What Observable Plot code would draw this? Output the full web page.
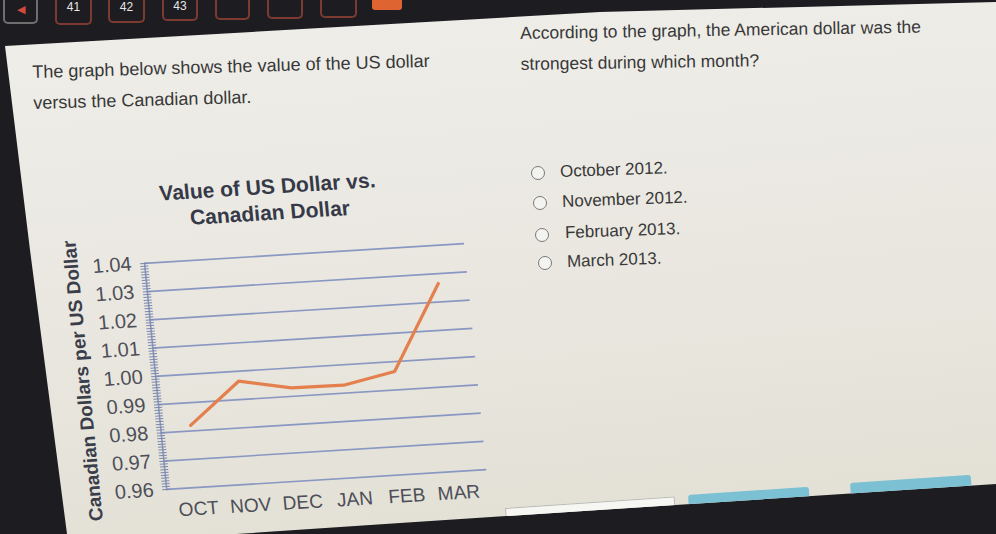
<!DOCTYPE html>
<html>
<head>
<meta charset="utf-8">
<script src="https://cdn.jsdelivr.net/npm/d3@7"></script>
<script src="https://cdn.jsdelivr.net/npm/@observablehq/plot@0.6"></script>
<style>
  html, body { margin: 0; padding: 0; }
  body { width: 996px; height: 534px; overflow: hidden; position: relative; background: #1d1c21;
         font-family: "Liberation Sans", Arial, sans-serif; color: #383838; }
  #panel { position: absolute; left: 0; top: 0; width: 996px; height: 534px;
           background: linear-gradient(175deg, #efeeea 0%, #eae8e1 45%, #e2e0d4 100%);
           clip-path: polygon(5px 46px, 600px 12px, 996px 2px, 996px 484px, 400px 523px, 236px 534px, 67px 534px, 30px 250px); }
  .tab { position: absolute; top: -6px; height: 30px; box-sizing: border-box; border: 2px solid #7c3a30;
         border-top: none; border-radius: 0 0 5px 5px; color: #e6e6e6; font-size: 12px; line-height: 12px;
         text-align: center; overflow: hidden; }
  .tab span { position: absolute; left: 0; right: 0; }
  .qtext { position: absolute; line-height: 31px; white-space: nowrap; transform-origin: 0 0; }
  .opt { position: absolute; font-size: 17px; white-space: nowrap; transform: rotate(-2deg); transform-origin: 0 50%; }
  .radio { position: absolute; width: 14px; height: 14px; box-sizing: border-box; border: 1.6px solid #7a7a7a;
           border-radius: 50%; background: #f3f3f0; }
  #chart { position: absolute; left: 0; top: 160px; width: 500px; height: 380px;
           transform-origin: 315px 205px; transform: matrix(1, -0.062, 0.098, 1, 0, 0); }
  #title { position: absolute; left: 85px; width: 400px; top: 12px; text-align: center; font-size: 21px;
           font-weight: bold; line-height: 26px; color: #363a48; }
  #plot { position: absolute; left: 0; top: 62px; }
  #plot svg g[aria-label="y-axis label"] text { font-size: 19px; font-weight: bold; fill: #3a3d4a; }
  .btn { position: absolute; transform-origin: 0 0; }
</style>
</head>
<body>
<div class="tab" style="left:3px;width:35px;border-color:#6f6f6f;"><span style="top:9px;font-size:11px;color:#d24a3c;">◀</span></div>
<div class="tab" style="left:55px;width:37px;height:31px;"><span style="top:7px;">41</span></div>
<div class="tab" style="left:108px;width:37px;height:29px;"><span style="top:7px;">42</span></div>
<div class="tab" style="left:162px;width:36px;height:27px;"><span style="top:6px;">43</span></div>
<div class="tab" style="left:215px;width:35px;height:26px;"></div>
<div class="tab" style="left:267px;width:36px;height:25px;"></div>
<div class="tab" style="left:320px;width:37px;height:24px;"></div>
<div style="position:absolute;left:372px;top:-4px;width:30px;height:14px;background:#de6532;border-radius:0 0 3px 3px;"></div>

<div id="panel">
  <div class="qtext" id="q1" style="left:32px;top:57px;font-size:18px;transform:rotate(-1.6deg);"></div>
  <div class="qtext" id="q2" style="left:520px;top:18px;font-size:17.5px;transform:rotate(-0.9deg);"></div>
  <div id="options"></div>
  <div id="chart">
    <div id="title"></div>
    <div id="plot"></div>
  </div>
  <div class="btn" style="left:505px;top:508px;width:168px;height:40px;background:#f6f6f3;border:1px solid #b9b9b4;transform:rotate(-3.9deg);"></div>
  <div class="btn" style="left:688px;top:495px;width:121px;height:40px;background:#7cc0d3;border-radius:3px;transform:rotate(-3.9deg);"></div>
  <div class="btn" style="left:850px;top:483px;width:121px;height:40px;background:#7cc0d3;border-radius:3px;transform:rotate(-3.9deg);"></div>
</div>

<script>
// ---- text content ----
const introLines = ["The graph below shows the value of the US dollar", "versus the Canadian dollar."];
const questionLines = ["According to the graph, the American dollar was the", "strongest during which month?"];
const answerOptions = ["October 2012.", "November 2012.", "February 2013.", "March 2013."];

// ---- chart data ----
const chartTitle = ["Value of US Dollar vs.", "Canadian Dollar"];
const yAxisLabel = "Canadian Dollars per US Dollar";
const months = ["OCT", "NOV", "DEC", "JAN", "FEB", "MAR"];
const rates = [0.982, 0.9965, 0.993, 0.9928, 0.9965, 1.0265];
const yTicks = [0.96, 0.97, 0.98, 0.99, 1.00, 1.01, 1.02, 1.03, 1.04];
const yMinorStep = 0.001;

// ---- page text ----
document.getElementById("q1").innerHTML = introLines.join("<br>");
document.getElementById("q2").innerHTML = questionLines.join("<br>");
const optPos = [[538, 173, 560, 171.5], [540, 203, 562, 202], [542, 235, 565, 233], [545, 263, 567, 262]];
const optBox = document.getElementById("options");
answerOptions.forEach((t, i) => {
  const [cx, cy, tx, ty] = optPos[i];
  const r = document.createElement("div");
  r.className = "radio";
  r.style.left = (cx - 7) + "px"; r.style.top = (cy - 7) + "px";
  optBox.appendChild(r);
  const s = document.createElement("div");
  s.className = "opt";
  s.textContent = t;
  s.style.left = tx + "px"; s.style.top = (ty - 10) + "px"; s.style.lineHeight = "20px";
  optBox.appendChild(s);
});
document.getElementById("title").innerHTML = chartTitle.join("<br>");

// ---- chart ----
const data = months.map((m, i) => ({month: m, rate: rates[i]}));
const minorTicks = d3.range(Math.round((yTicks[yTicks.length - 1] - yTicks[0]) / yMinorStep) + 1)
  .map(i => +(yTicks[0] + i * yMinorStep).toFixed(3));

const gridColor = "#8997c2";
const labelColor = "#4d4e58";

const chart = Plot.plot({
  width: 500,
  height: 318,
  marginLeft: 155,
  marginRight: 25,
  marginTop: 31,
  marginBottom: 61,
  style: {background: "transparent", overflow: "visible", fontFamily: "'Liberation Sans', Arial, sans-serif"},
  x: {type: "point", domain: months, padding: 0.52, label: null},
  y: {domain: [yTicks[0], yTicks[yTicks.length - 1]]},
  marks: [
    Plot.gridY(yTicks, {stroke: gridColor, strokeOpacity: 1, strokeWidth: 1.6}),
    Plot.frame({anchor: "left", stroke: gridColor, strokeWidth: 1.6}),
    Plot.axisY(minorTicks, {tickSize: 8, dx: 4, text: null, stroke: "#7c88ad", strokeWidth: 1, label: null}),
    Plot.axisY(yTicks, {tickSize: 0, tickPadding: 13, tickFormat: d => d.toFixed(2), fontSize: 20, fill: labelColor,
      label: yAxisLabel, labelAnchor: "center", labelOffset: 80, labelArrow: "none"}),
    Plot.axisX(months, {tickSize: 0, tickPadding: 14, fontSize: 19, fill: labelColor, label: null}),
    Plot.line(data, {x: "month", y: "rate", stroke: "#e4804e", strokeWidth: 3.2, strokeLinejoin: "round"})
  ]
});
document.getElementById("plot").appendChild(chart);
</script>
</body>
</html>
